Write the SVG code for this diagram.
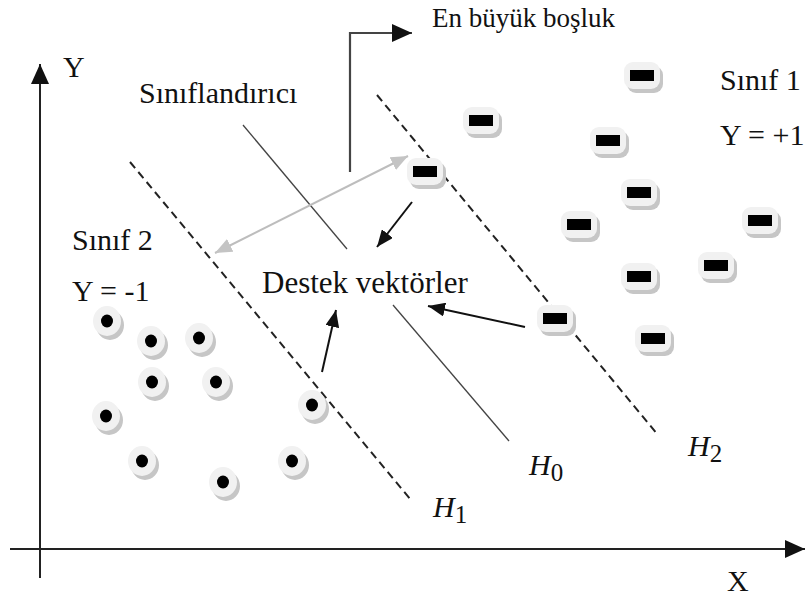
<svg xmlns="http://www.w3.org/2000/svg" xmlns:xlink="http://www.w3.org/1999/xlink" width="812" height="603" viewBox="0 0 812 603">
  <style>
    .lbl { font-family: "Liberation Serif", "Times New Roman", serif; font-size: 30px; fill: #111; }
    .math { font-family: "Liberation Serif", "Times New Roman", serif; font-style: italic; font-size: 30px; fill: #111; }
    .sub { font-style: normal; font-size: 25px; }
    .axis { stroke: #222; stroke-width: 2; fill: none; }
    .hplane { stroke: #222; stroke-width: 2; stroke-dasharray: 8 5; fill: none; }
    .sep { stroke: #444; stroke-width: 1.3; fill: none; }
    .arr { stroke: #111; stroke-width: 2; fill: none; }
    .garr { stroke: #bdbdbd; stroke-width: 2; fill: none; }
  </style>
  <defs>
    <marker id="axisHead" markerUnits="userSpaceOnUse" markerWidth="22" markerHeight="18" refX="20" refY="9" orient="auto">
      <path d="M0,0 L20,9 L0,18 Z" fill="#111"/>
    </marker>
    <marker id="blackHead" markerUnits="userSpaceOnUse" markerWidth="18" markerHeight="14" refX="17" refY="7" orient="auto">
      <path d="M0,0 L17,7 L0,14 Z" fill="#111"/>
    </marker>
    <marker id="grayHead" markerUnits="userSpaceOnUse" markerWidth="18" markerHeight="14" refX="17" refY="7" orient="auto-start-reverse">
      <path d="M0,0 L17,7 L0,14 Z" fill="#c4c4c4"/>
    </marker>
    <!-- class +1 marker: rounded tile with black bar -->
    <g id="tile">
      <rect x="-15" y="-10" width="36" height="27" rx="9" fill="#c6c6c6"/>
      <rect x="-18" y="-14" width="36" height="27" rx="9" fill="#f1f1f1"/>
      <rect x="-12" y="-6" width="24" height="11" fill="#000"/>
    </g>
    <!-- class -1 marker: round button with black centre -->
    <g id="dot">
      <ellipse cx="3" cy="4" rx="14" ry="15" fill="#c6c6c6"/>
      <ellipse cx="0" cy="0" rx="14" ry="15" fill="#f1f1f1"/>
      <ellipse cx="0" cy="0" rx="6" ry="6.5" fill="#000"/>
    </g>
  </defs>

  <rect width="812" height="603" fill="#fff"/>

  <!-- axes -->
  <g id="axes">
    <line class="axis" x1="40" y1="578" x2="40" y2="64" marker-end="url(#axisHead)"/>
    <line class="axis" x1="10" y1="549" x2="805" y2="549" marker-end="url(#axisHead)"/>
    <text class="lbl" x="63" y="77">Y</text>
    <text class="lbl" x="727" y="591">X</text>
  </g>

  <!-- hyperplanes and connectors -->
  <g id="connectors">
    <line class="hplane" x1="130" y1="162" x2="411" y2="500"/>
    <line class="hplane" x1="377" y1="95" x2="658" y2="435"/>
    <line class="sep" x1="243" y1="125" x2="347" y2="249"/>
    <line class="sep" x1="393" y1="305" x2="509" y2="441"/>
    <polyline points="350,172 350,33 412,33" fill="none" stroke="#444" stroke-width="2.2" marker-end="url(#axisHead)"/>
    <line class="garr" x1="215" y1="253" x2="408" y2="156" marker-start="url(#grayHead)" marker-end="url(#grayHead)"/>
    <line class="arr" x1="412" y1="202" x2="377" y2="247" marker-end="url(#blackHead)"/>
    <line class="arr" x1="322" y1="372" x2="336" y2="310" marker-end="url(#blackHead)"/>
    <line class="arr" x1="525" y1="327" x2="428" y2="306" marker-end="url(#blackHead)"/>
  </g>

  <!-- class +1 points -->
  <g id="class1-points">
    <use xlink:href="#tile" x="481" y="121"/>
    <use xlink:href="#tile" x="425" y="172"/>
    <use xlink:href="#tile" x="642" y="76"/>
    <use xlink:href="#tile" x="608" y="141"/>
    <use xlink:href="#tile" x="639" y="193"/>
    <use xlink:href="#tile" x="579" y="225"/>
    <use xlink:href="#tile" x="760" y="221"/>
    <use xlink:href="#tile" x="716" y="266"/>
    <use xlink:href="#tile" x="639" y="277"/>
    <use xlink:href="#tile" x="555" y="319"/>
    <use xlink:href="#tile" x="653" y="339"/>
  </g>

  <!-- class -1 points -->
  <g id="class2-points">
    <use xlink:href="#dot" x="107" y="321"/>
    <use xlink:href="#dot" x="151" y="341"/>
    <use xlink:href="#dot" x="199" y="338"/>
    <use xlink:href="#dot" x="152" y="382"/>
    <use xlink:href="#dot" x="216" y="382"/>
    <use xlink:href="#dot" x="106" y="416"/>
    <use xlink:href="#dot" x="142" y="461"/>
    <use xlink:href="#dot" x="223" y="482"/>
    <use xlink:href="#dot" x="292" y="461"/>
    <use xlink:href="#dot" x="312" y="405"/>
  </g>

  <!-- labels -->
  <g id="label-margin"><text class="lbl" x="432" y="27" style="font-size:27px">En büyük boşluk</text></g>
  <g id="label-classifier"><text class="lbl" x="139" y="103">Sınıflandırıcı</text></g>
  <g id="label-class2">
    <text class="lbl" x="72" y="250">Sınıf 2</text>
    <text class="lbl" x="72" y="301">Y = -1</text>
  </g>
  <g id="label-class1">
    <text class="lbl" x="720" y="90">Sınıf 1</text>
    <text class="lbl" x="720" y="145">Y = +1</text>
  </g>
  <g id="label-sv"><text class="lbl" x="262" y="293" style="font-size:31px">Destek vektörler</text></g>
  <g id="label-h0"><text class="math" x="529" y="475">H<tspan class="sub" dy="6">0</tspan></text></g>
  <g id="label-h1"><text class="math" x="433" y="517">H<tspan class="sub" dy="6">1</tspan></text></g>
  <g id="label-h2"><text class="math" x="688" y="456">H<tspan class="sub" dy="6">2</tspan></text></g>
</svg>
